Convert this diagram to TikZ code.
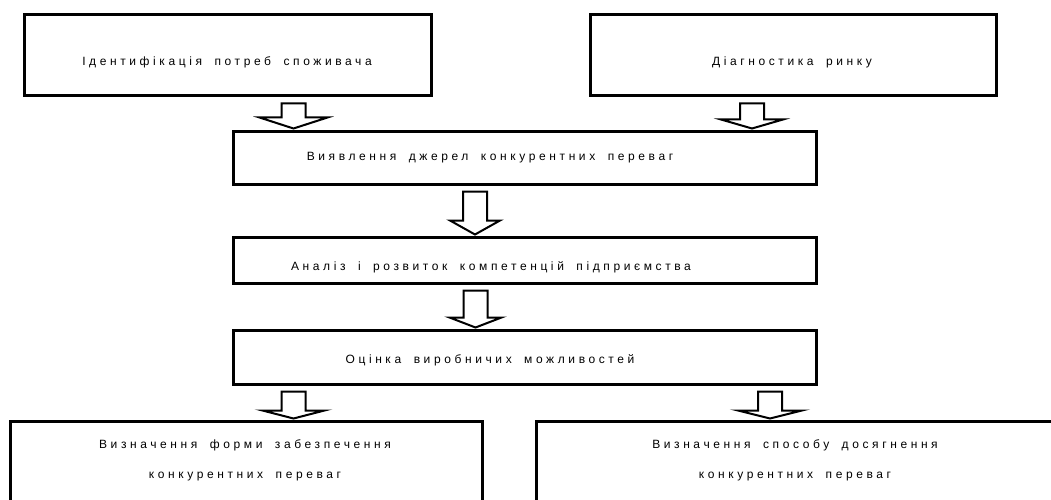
\documentclass[tikz,border=0pt]{standalone}
\usepackage{fontspec}
\setmainfont{Liberation Sans}[LetterSpace=30, WordSpace=1.8]
\usetikzlibrary{calc}
\tikzset{box/.style = {draw, line width=3pt, rectangle, inner sep=0pt},
         lbl/.style = {inner sep=0pt, align=center, font=\fontsize{12}{30}\selectfont},
         barrow/.style = {draw, line width=2pt, fill=white, line join=miter}}
% hollow block arrow: x, from node, to node, head half width, head length
\newcommand{\blockarrow}[5]{%
  \draw [barrow] let \p1 = (#1,0 |- #2.south), \p2 = (#1,0 |- #3.north) in
    (\x1-12pt, \y1-6pt) -- (\x1+12pt, \y1-6pt) -- (\x1+12pt, \y2+#5)
    -- (\x1+#4, \y2+#5) -- (\x1, \y2+1pt) -- (\x1-#4, \y2+#5)
    -- (\x1-12pt, \y2+#5) -- cycle;}

\begin{document}
\begin{tikzpicture}[x=1pt, y=-1pt]
    \useasboundingbox (0, 0) rectangle (1051, 500);
    \clip (0, 0) rectangle (1051, 500);

    \node [box, minimum width=407pt, minimum height=81pt] (ident) at (227.5, 55.5) {};
    \node [box, minimum width=406pt, minimum height=81pt] (diag) at (793, 55.5) {};
    \node [box, minimum width=583pt, minimum height=53pt] (dzherela) at (524.5, 157.5) {};
    \node [box, minimum width=583pt, minimum height=46pt] (analiz) at (524.5, 260) {};
    \node [box, minimum width=583pt, minimum height=54pt] (otsinka) at (524.5, 357) {};
    \node [box, minimum width=472pt, minimum height=91pt] (forma) at (246, 466.5) {};
    \node [box, minimum width=516pt, minimum height=91pt] (sposib) at (794, 466.5) {};

    \node [lbl] (ident-t) at (227, 62) {Ідентифікація потреб споживача};
    \node [lbl] (diag-t) at (792, 62) {Діагностика ринку};
    \node [lbl] (dzherela-t) at (490, 158) {Виявлення джерел конкурентних переваг};
    \node [lbl] (analiz-t) at (491, 267) {Аналіз і розвиток компетенцій підприємства};
    \node [lbl] (otsinka-t) at (490, 360) {Оцінка виробничих можливостей};
    \node [lbl] (forma-t) at (245, 460) {Визначення форми забезпечення\\конкурентних переваг};
    \node [lbl] (sposib-t) at (795, 460) {Визначення способу досягнення\\конкурентних переваг};

    \blockarrow{293.5}{ident}{dzherela}{34pt}{12pt}
    \blockarrow{752}{diag}{dzherela}{31pt}{10pt}
    \blockarrow{475}{dzherela}{analiz}{25pt}{15pt}
    \blockarrow{475.5}{analiz}{otsinka}{26pt}{11pt}
    \blockarrow{293.5}{otsinka}{forma}{31pt}{9pt}
    \blockarrow{770}{otsinka}{sposib}{32pt}{9pt}
\end{tikzpicture}
\end{document}
